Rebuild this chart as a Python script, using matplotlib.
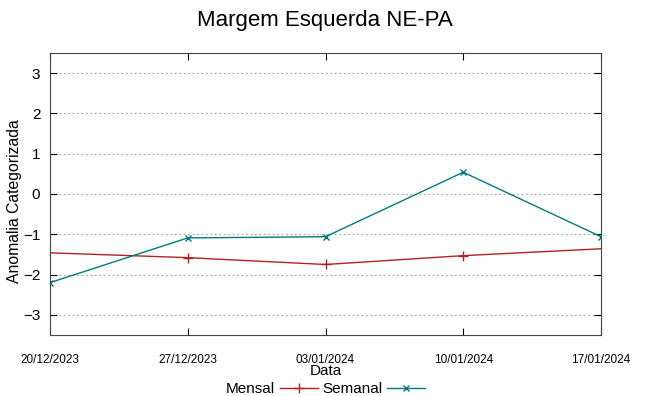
import matplotlib.pyplot as plt
import pandas as pd

plt.rcParams['font.family'] = ['Liberation Sans', 'DejaVu Sans']

datas = ['2023-12-20', '2023-12-27', '2024-01-03', '2024-01-10', '2024-01-17']
tick_labels = ['20/12/2023', '27/12/2023', '03/01/2024', '10/01/2024', '17/01/2024']
mensal = [-1.46, -1.58, -1.75, -1.53, -1.36]
semanal = [-2.20, -1.09, -1.06, 0.54, -1.06]

t = pd.to_datetime(datas)

fig = plt.figure(figsize=(6.49, 3.96), dpi=100)
ax = fig.add_axes([50/649, 1 - 335/396, 551/649, 282/396])

ax.plot(t, mensal, color='#b22222', linewidth=1, marker='+', markersize=7,
        markevery=[1, 2, 3], label='Mensal')
ax.plot(t, semanal, color='#007b7b', linewidth=1, marker='x', markersize=5,
        label='Semanal')

ax.set_xlim(t[0], t[-1])
ax.set_ylim(-3.5, 3.5)
ax.set_xticks(t)
ax.set_xticklabels(tick_labels, fontsize=8.5)
ax.set_yticks([-3, -2, -1, 0, 1, 2, 3])
ax.tick_params(axis='y', labelsize=11, direction='in', right=True, length=5, pad=7)
ax.tick_params(axis='x', direction='in', top=True, length=5, pad=14)
ax.grid(axis='y', color='#a0a0a0', linestyle=(0, (1.5, 2.5)), linewidth=0.8)
for s in ax.spines.values():
    s.set_color('#444444')

ax.set_ylabel('Anomalia Categorizada', fontsize=11.3)
ax.yaxis.set_label_coords(-0.051, 0.475)
ax.set_xlabel('Data', fontsize=11, labelpad=-2)
fig.suptitle('Margem Esquerda NE-PA', fontsize=16, y=0.975)

leg = ax.legend(loc='upper center', bbox_to_anchor=(0.5, -0.14), ncol=2,
                frameon=False, fontsize=11, handlelength=2.5, markerfirst=False,
                columnspacing=0.3, handletextpad=0.3, borderpad=0)

fig.savefig('out.png', dpi=100)
